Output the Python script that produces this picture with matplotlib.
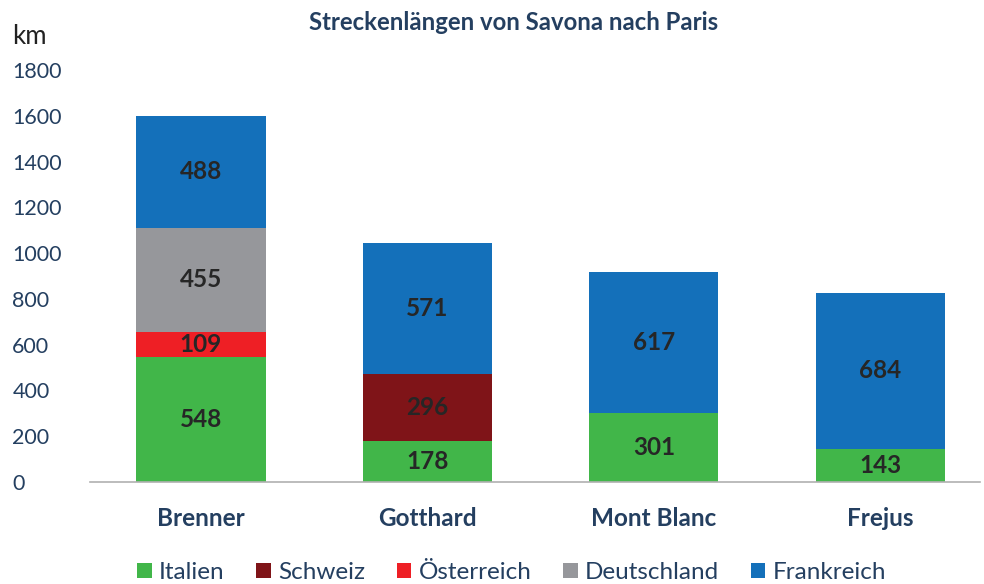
import matplotlib.pyplot as plt
import numpy as np

plt.rcParams['font.family'] = ['Lato', 'DejaVu Sans']

routes = ["Brenner", "Gotthard", "Mont Blanc", "Frejus"]
countries = ["Italien", "Schweiz", "Österreich", "Deutschland", "Frankreich"]
italien = [548, 178, 301, 143]
schweiz = [0, 296, 0, 0]
oesterreich = [109, 0, 0, 0]
deutschland = [455, 0, 0, 0]
frankreich = [488, 571, 617, 684]
colors = ["#41B649", "#7F1418", "#EE1F25", "#96979B", "#1470BA"]

navy = "#243F60"

fig = plt.figure(figsize=(9.84, 5.84), dpi=100)
ax = fig.add_axes([0.0915, 0.1747, 0.9045, 0.7053])

x = np.arange(len(routes))
bottom = np.zeros(len(routes))
for name, vals, col in zip(countries, [italien, schweiz, oesterreich, deutschland, frankreich], colors):
    vals = np.array(vals, dtype=float)
    ax.bar(x, vals, 0.57, bottom=bottom, color=col, label=name)
    for xi, v, b in zip(x, vals, bottom):
        if v > 0:
            ax.text(xi, b + v / 2, str(int(v)), ha="center", va="center",
                    fontsize=17.5, fontweight="bold", color="#262626")
    bottom += vals

ax.set_xlim(-0.49, 3.44)
ax.set_ylim(0, 1800)
ax.set_yticks(range(0, 1801, 200))
ax.tick_params(axis="y", length=0, labelsize=15.5, labelcolor=navy, pad=56)
ax.tick_params(axis="x", length=0, pad=18)
ax.set_xticks(x)
ax.set_xticklabels(routes, fontsize=17.5, fontweight="bold", color=navy)
for lab in ax.get_yticklabels():
    lab.set_horizontalalignment("left")
for s in ["top", "right", "left"]:
    ax.spines[s].set_visible(False)
ax.spines["bottom"].set_color("#B0B0B0")
ax.spines["bottom"].set_linewidth(1.2)

fig.text(0.522, 0.962, "Streckenlängen von Savona nach Paris", ha="center", va="center",
         fontsize=17.2, fontweight="bold", color=navy)
fig.text(0.012, 0.937, "km", ha="left", va="center", fontsize=18.5, color="#222222")

leg = fig.legend(loc="center", bbox_to_anchor=(0.52, 0.02), ncol=5, frameon=False,
                 fontsize=17.5, handlelength=0.6, handleheight=0.6, handletextpad=0.3,
                 columnspacing=1.3)
for t in leg.get_texts():
    t.set_color(navy)

fig.savefig("out.png", dpi=100)
